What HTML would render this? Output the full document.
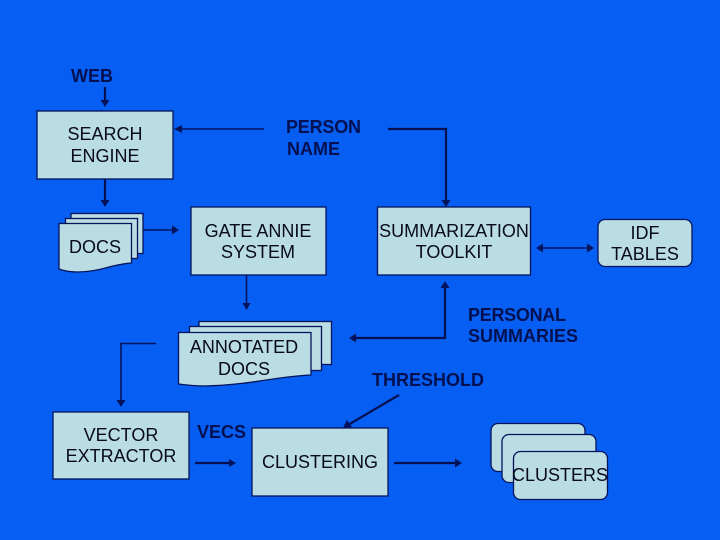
<!DOCTYPE html>
<html>
<head>
<meta charset="utf-8">
<style>
html,body{margin:0;padding:0;background:#075ef2;}
svg{display:block;}
text{font-family:"Liberation Sans",sans-serif;font-size:18px;fill:#0a0a1e;text-anchor:middle;}
.b{fill:#b9dde3;stroke:#04135c;stroke-width:1.3;}
.l{fill:none;stroke:#04135c;stroke-width:1.6;}
.k{fill:none;stroke:#04104f;stroke-width:2.2;}
.h{fill:#04135c;stroke:none;}
.t{font-weight:bold;fill:#04104f;text-anchor:start;}
.n{text-anchor:start;}
</style>
</head>
<body>
<svg width="720" height="540" viewBox="0 0 720 540" xmlns="http://www.w3.org/2000/svg">
<rect width="720" height="540" fill="#075ef2"/>

<rect class="b" x="37" y="111" width="136" height="68"/>
<rect class="b" x="191" y="207" width="135" height="68"/>
<rect class="b" x="377.500" y="207" width="153" height="68"/>
<rect class="b" x="53" y="412" width="136" height="67"/>
<rect class="b" x="252" y="428" width="136" height="68"/>
<rect class="b" x="598" y="219.500" width="94" height="47" rx="7"/>

<rect class="b" x="71" y="213.500" width="72" height="40"/>
<rect class="b" x="65.500" y="218.500" width="72" height="40"/>
<path class="b" d="M59 223.500H131.500V263C112 264 100 272 78 272C70 272 64 271 59 269Z"/>

<rect class="b" x="199" y="321.500" width="132.500" height="43"/>
<rect class="b" x="189.500" y="326.500" width="132" height="44"/>
<path class="b" d="M178.500 332.500H311V375C280 376 250 385 205 386C195 386 186 385 178.500 384Z"/>

<rect class="b" x="491" y="423.500" width="94" height="48" rx="7"/>
<rect class="b" x="502" y="434.500" width="94" height="48" rx="7"/>
<rect class="b" x="513.500" y="451.500" width="94" height="48" rx="7"/>

<path class="k" d="M105 87V102"/><path class="h" d="M100.500 100H109.500L105 107Z"/>
<path class="k" d="M105 179V202"/><path class="h" d="M100.500 200H109.500L105 207Z"/>
<path class="l" d="M180 129H264"/><path class="h" d="M174 129L182 125V133Z"/>
<path class="k" d="M388 129H446V202"/><path class="h" d="M441.500 200H450.500L446 207Z"/>
<path class="l" d="M143 230H173"/><path class="h" d="M172 225.500L179 230L172 234.500Z"/>
<path class="l" d="M246.500 275V304"/><path class="h" d="M242.500 303H250.500L246.500 310Z"/>
<path class="k" d="M445 286V338H352"/><path class="h" d="M440.500 288H449.500L445 281Z"/><path class="h" d="M349 338L356 333.500V342.500Z"/>
<path class="l" d="M156 343.500H121V402"/><path class="h" d="M116.500 400H125.500L121 407Z"/>
<path class="k" d="M399 395L348 425"/><path class="h" d="M343 428L347 420L352 427Z"/>
<path class="k" d="M195 463H231"/><path class="h" d="M229 459L236 463L229 467Z"/>
<path class="k" d="M394 463H456"/><path class="h" d="M455 458.500L462 463L455 467.500Z"/>
<path class="l" d="M540 248H590"/><path class="h" d="M536 248L543 243.500V252.500Z"/><path class="h" d="M594 248L587 243.500V252.500Z"/>

<text class="t" x="71" y="82">WEB</text>
<text x="105" y="140">SEARCH</text>
<text x="105" y="162">ENGINE</text>
<text class="t" x="286" y="133" textLength="75">PERSON</text>
<text class="t" x="287" y="155">NAME</text>
<text x="95" y="253">DOCS</text>
<text x="258" y="237">GATE ANNIE</text>
<text x="258" y="258">SYSTEM</text>
<text x="454" y="237">SUMMARIZATION</text>
<text x="454" y="258">TOOLKIT</text>
<text x="645" y="239">IDF</text>
<text x="645" y="260">TABLES</text>
<text x="244" y="353">ANNOTATED</text>
<text x="244" y="375">DOCS</text>
<text class="t" x="468" y="321" textLength="98">PERSONAL</text>
<text class="t" x="468" y="342" textLength="110">SUMMARIES</text>
<text class="t" x="372" y="386">THRESHOLD</text>
<text x="121" y="441">VECTOR</text>
<text x="121" y="462">EXTRACTOR</text>
<text class="t" x="197" y="438">VECS</text>
<text x="320" y="468">CLUSTERING</text>
<text x="560" y="481">CLUSTERS</text>
</svg>
</body>
</html>
